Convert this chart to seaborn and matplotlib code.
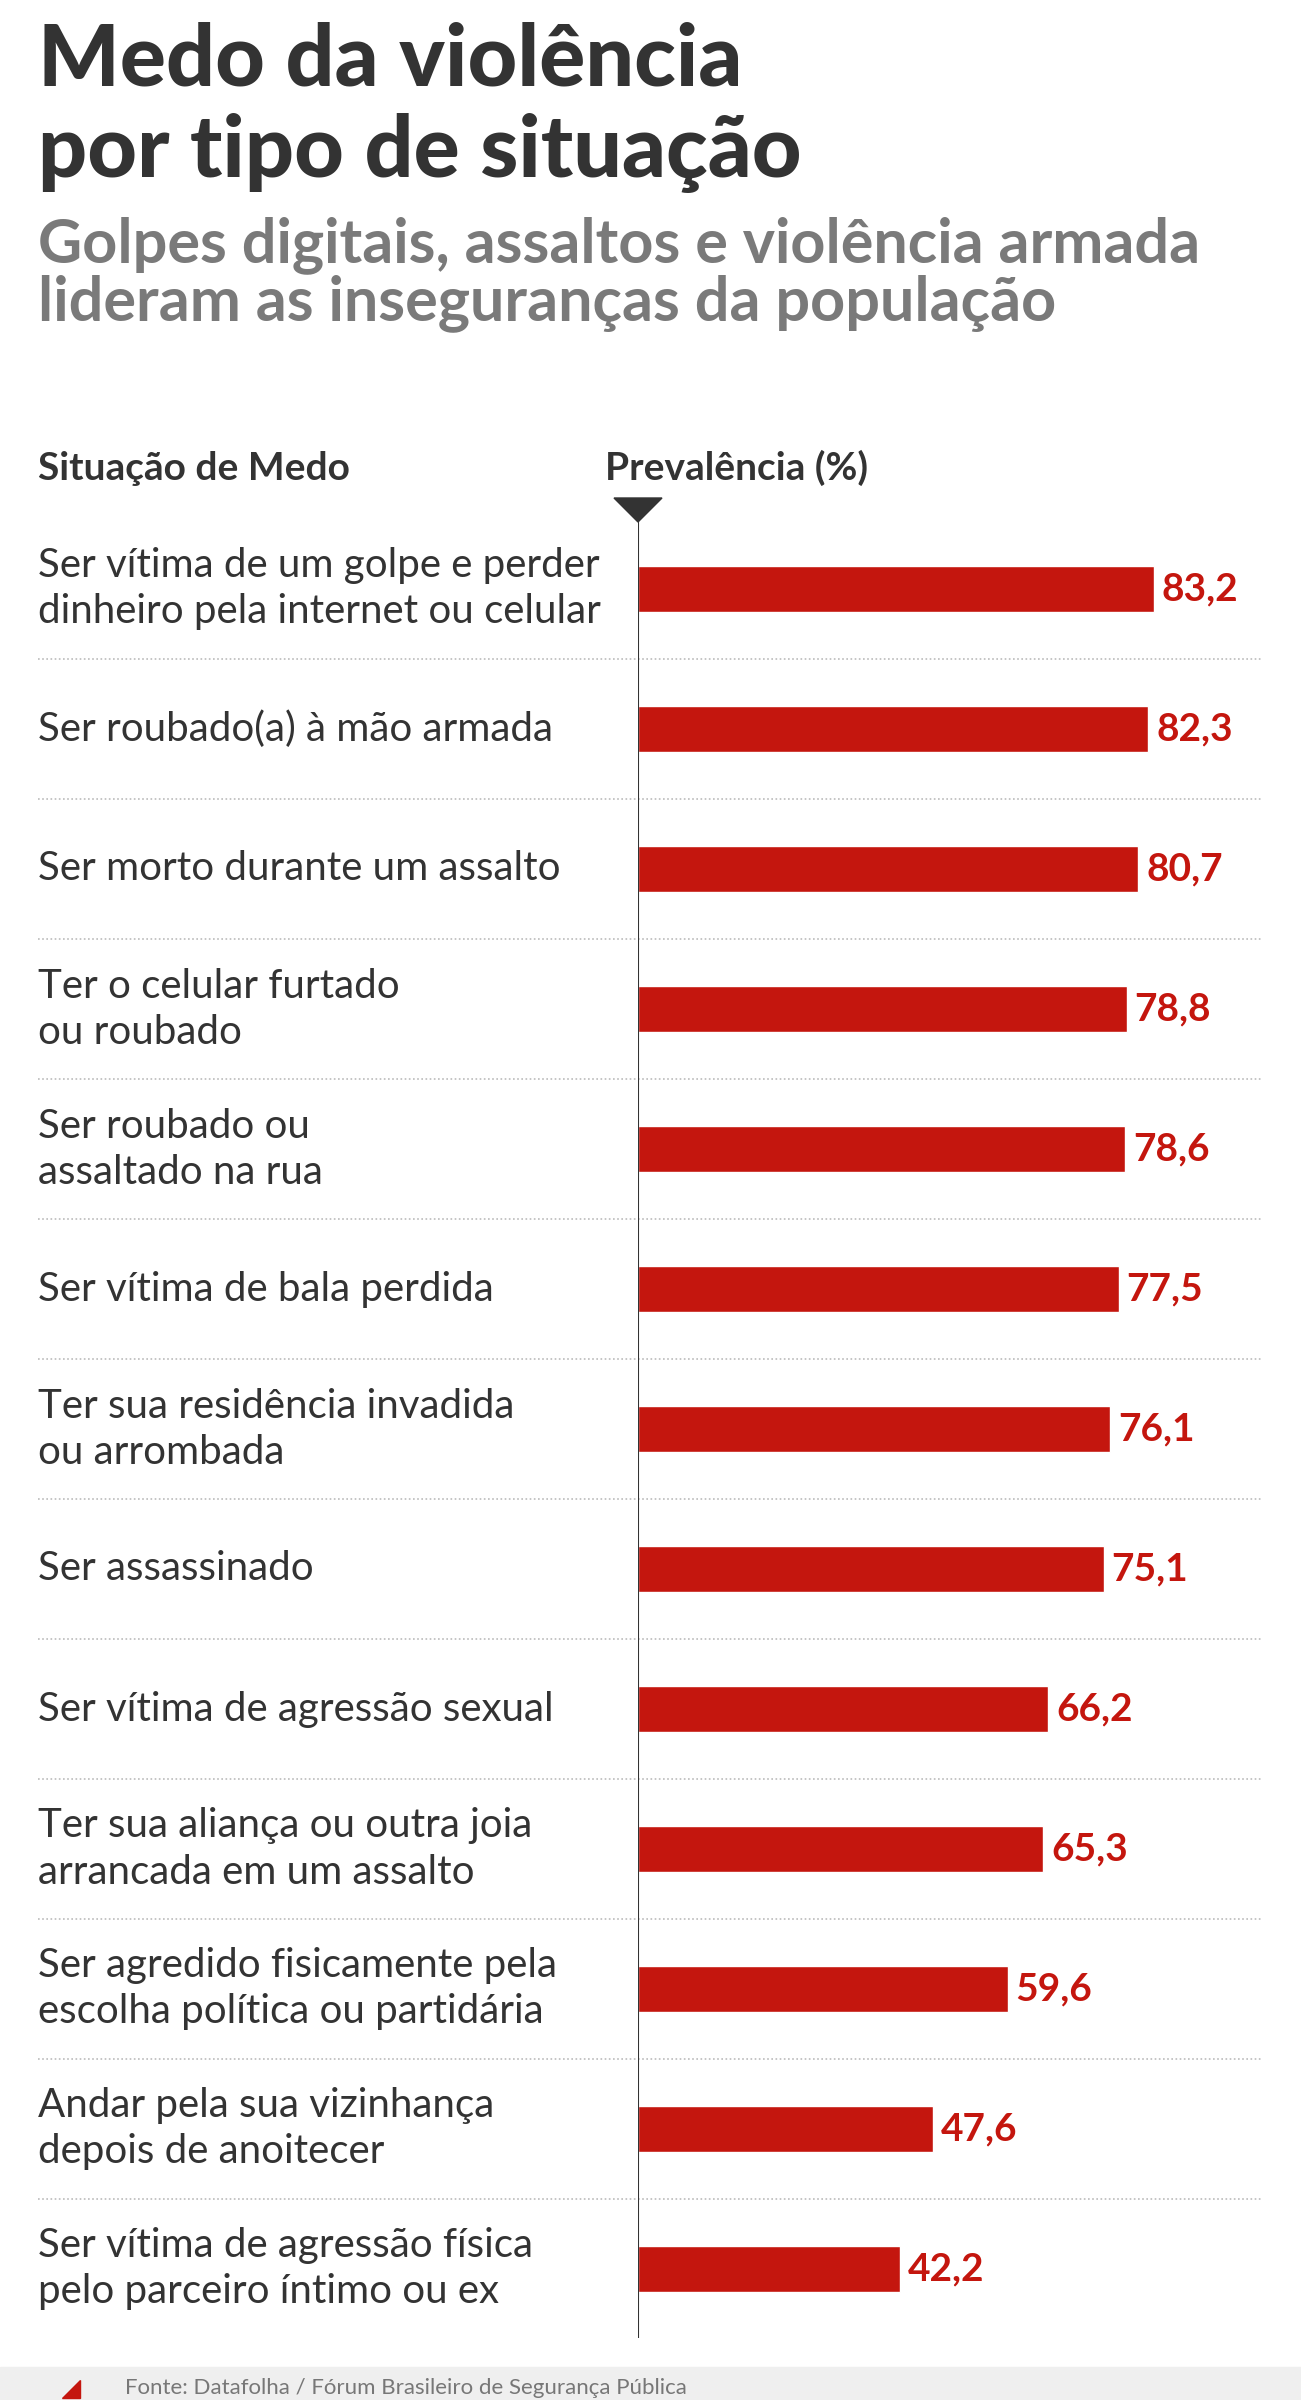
import matplotlib
matplotlib.use("Agg")
import matplotlib.pyplot as plt
import seaborn as sns
import pandas as pd

situacoes = [
    "Ser vítima de um golpe e perder\ndinheiro pela internet ou celular",
    "Ser roubado(a) à mão armada",
    "Ser morto durante um assalto",
    "Ter o celular furtado\nou roubado",
    "Ser roubado ou\nassaltado na rua",
    "Ser vítima de bala perdida",
    "Ter sua residência invadida\nou arrombada",
    "Ser assassinado",
    "Ser vítima de agressão sexual",
    "Ter sua aliança ou outra joia\narrancada em um assalto",
    "Ser agredido fisicamente pela\nescolha política ou partidária",
    "Andar pela sua vizinhança\ndepois de anoitecer",
    "Ser vítima de agressão física\npelo parceiro íntimo ou ex",
]
prevalencia = [83.2, 82.3, 80.7, 78.8, 78.6, 77.5, 76.1, 75.1, 66.2, 65.3, 59.6, 47.6, 42.2]

df = pd.DataFrame({"situacao": situacoes, "valor": prevalencia})

sns.set_style("white")
plt.rcParams["font.family"] = ["Lato", "DejaVu Sans"]

W, H = 1301, 2400
fig = plt.figure(figsize=(W / 100, H / 100), dpi=100)
x0, ppu = 638, 6.2
row0, rowh = 589, 140
top_px, bot_px = 520, 2338
ax = fig.add_axes([x0 / W, 1 - bot_px / H, 1 - x0 / W, (bot_px - top_px) / H])

red = "#c4160e"
dark = "#333333"
sns.barplot(data=df, y="situacao", x="valor", color=red, orient="h",
            width=46 / rowh, saturation=1, ax=ax)
ax.set_xlim(0, (W - x0) / ppu)
ax.set_ylim((bot_px - row0) / rowh, (top_px - row0) / rowh)
ax.axis("off")

left = (38 - x0) / ppu
right = (1262 - x0) / ppu
for i, (lab, v) in enumerate(zip(situacoes, prevalencia)):
    ax.text(left, i, lab, ha="left", va="center", fontsize=29, color=dark,
            linespacing=1.3, clip_on=False)
    ax.text(v + 1.3, i, f"{v:.1f}".replace(".", ","), ha="left", va="center",
            fontsize=28, fontweight="bold", color=red)
    if i < len(situacoes) - 1:
        ax.plot([left, right], [i + 0.5, i + 0.5], ls=(0, (1, 1.5)), lw=1.2,
                color="#bbbbbb", clip_on=False)
ax.axvline(0, color=dark, lw=1.5)

# cabeçalho
fig.text(38 / W, 1 - 61 / H, "Medo da violência", fontsize=62, fontweight="black",
         color="#333333", va="center")
fig.text(38 / W, 1 - 153 / H, "por tipo de situação", fontsize=62, fontweight="black",
         color="#333333", va="center")
fig.text(38 / W, 1 - 245 / H, "Golpes digitais, assaltos e violência armada",
         fontsize=44, fontweight="bold", color="#7a7a7a", va="center")
fig.text(38 / W, 1 - 303 / H, "lideram as inseguranças da população",
         fontsize=44, fontweight="bold", color="#7a7a7a", va="center")
fig.text(38 / W, 1 - 468 / H, "Situação de Medo", fontsize=28, fontweight="bold",
         color=dark, va="center")
fig.text(605 / W, 1 - 468 / H, "Prevalência (%)", fontsize=28, fontweight="bold",
         color=dark, va="center")
fig.patches.append(plt.Polygon([[(x0 - 24) / W, 1 - 498 / H], [(x0 + 24) / W, 1 - 498 / H],
                                [x0 / W, 1 - 522 / H]], closed=True, color=dark,
                               transform=fig.transFigure))

# rodapé
fig.patches.append(plt.Rectangle((0, 0), 1, (H - 2367) / H, color="#efefef",
                                 transform=fig.transFigure, zorder=0))
fig.patches.append(plt.Polygon([[62 / W, 2 / H], [80 / W, 2 / H], [80 / W, 20 / H]],
                               closed=True, color=red, transform=fig.transFigure))
fig.text(125 / W, 12 / H, "Fonte: Datafolha / Fórum Brasileiro de Segurança Pública",
         fontsize=16, color="#777777", va="center")

fig.savefig("out.png", dpi=100)
